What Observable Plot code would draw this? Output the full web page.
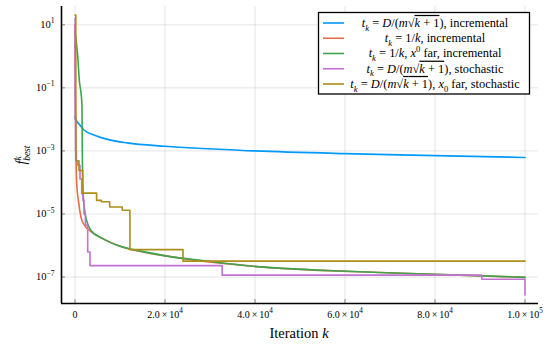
<!DOCTYPE html>
<html><head><meta charset="utf-8">
<script src="https://cdn.jsdelivr.net/npm/d3@7"></script>
<script src="https://cdn.jsdelivr.net/npm/@observablehq/plot@0.6"></script>
<style>
body{margin:0;background:#fff;}
#chart{width:556px;height:347px;}
</style></head><body><div id="chart"></div>
<script>
const xTicks = [0, 20000, 40000, 60000, 80000, 100000];
const xTickLabels = ["0", "2.0 × 10^4", "4.0 × 10^4", "6.0 × 10^4", "8.0 × 10^4", "1.0 × 10^5"];
const yTicks = [1e1, 1e-1, 1e-3, 1e-5, 1e-7];
const yTickLabels = ["10^1", "10^−1", "10^−3", "10^−5", "10^−7"];
const xDomain = [-3000, 103000];
const yDomain = [1.45e-8, 38];
const colors = ["#009AFA", "#E36F47", "#3EA44E", "#C371D2", "#AC8E18"];
const legendEnds = ["incremental", "incremental", "incremental", "stochastic", "stochastic"];

const blueK = [0, 300, 890, 2000, 4200, 7900, 11600, 20000, 40000, 60000, 80000, 100000];
const blueF = [1.2e-2, 9.3e-3, 7.1e-3, 4.6e-3, 3.2e-3, 2.2e-3, 1.8e-3, 1.4e-3, 1.0e-3, 8.2e-4, 7.1e-4, 6.2e-4];

const orangeK = [0, 60, 150, 220, 380, 750, 1330, 2090, 3200, 6150, 10600, 20500, 41200, 70800, 100000];
const orangeF = [10, 0.1, 1e-2, 1.0e-3, 9.1e-5, 2.7e-5, 7.9e-6, 4.4e-6, 3.0e-6, 1.66e-6, 8.9e-7, 4.6e-7, 2.1e-7, 1.35e-7, 9.8e-8];

const greenK = [0, 600, 1000, 1330, 1550, 1620, 1710, 2090, 2820, 3550, 6150, 10600, 13100, 20500, 27900, 41200, 56000, 70800, 85600, 100000];
const greenF = [6.3, 1.02, 0.148, 7.1e-2, 2.7e-2, 1.0e-3, 9.1e-5, 1.48e-5, 4.9e-6, 3.0e-6, 1.66e-6, 8.9e-7, 7.4e-7, 4.6e-7, 3.4e-7, 2.1e-7, 1.62e-7, 1.35e-7, 1.15e-7, 9.8e-8];

const purpleK = [0, 40, 120, 300, 600, 1110, 1490, 1775, 2000, 2310, 2820, 3330, 32700, 90400, 100000];
const purpleF = [16, 1e-2, 1e-3, 4.9e-4, 3.5e-4, 1.29e-4, 4.4e-5, 2.7e-5, 1.0e-5, 4.4e-6, 6.2e-7, 2.3e-7, 1.15e-7, 8.5e-8, 2.7e-8];

const oliveK = [0, 180, 890, 1710, 4800, 5860, 7700, 10500, 12200, 24000, 100000];
const oliveF = [20.4, 4.9e-4, 2.4e-4, 4.6e-5, 2.7e-5, 2.45e-5, 1.66e-5, 1.32e-5, 7.4e-7, 3.2e-7, 3.2e-7];

const zip = (ks, fs) => ks.map((k, i) => ({k, f: fs[i]}));
const series = [
  {data: zip(blueK, blueF), curve: "monotone-x"},
  {data: zip(orangeK, orangeF), curve: "monotone-x"},
  {data: zip(greenK, greenF), curve: "monotone-x"},
  {data: zip(purpleK, purpleF), curve: "step-after"},
  {data: zip(oliveK, oliveF), curve: "step-after"}
];

const serif = "Liberation Serif, DejaVu Serif, serif";
const plot = Plot.plot({
  width: 556, height: 347,
  marginLeft: 61, marginRight: 18, marginTop: 6, marginBottom: 44,
  style: {fontFamily: serif, fontSize: "10px", background: "#fff", color: "#000"},
  x: {domain: xDomain},
  y: {type: "log", domain: yDomain},
  marks: [
    Plot.gridX(xTicks, {stroke: "#000", strokeOpacity: 0.1, strokeWidth: 1}),
    Plot.gridY(yTicks, {stroke: "#000", strokeOpacity: 0.1, strokeWidth: 1}),
    Plot.axisX(xTicks, {tickSize: -4, stroke: "#888", tickFormat: () => "", label: null}),
    Plot.axisY(yTicks, {tickSize: -4, stroke: "#888", tickFormat: () => "", label: null}),
    Plot.axisX(xTicks, {tickSize: 0, tickPadding: 7, tickFormat: d => xTickLabels[xTicks.indexOf(d)], label: null}),
    Plot.axisY(yTicks, {tickSize: 0, tickPadding: 7, tickFormat: d => yTickLabels[yTicks.indexOf(d)], label: null}),
    ...series.map((s, i) => Plot.line(s.data, {x: "k", y: "f", stroke: colors[i], strokeWidth: 1.6, curve: s.curve})),
    Plot.ruleX([xDomain[0]], {stroke: "#000", strokeWidth: 1.6}),
    Plot.ruleY([yDomain[0]], {stroke: "#000", strokeWidth: 1.6})
  ]
});
document.getElementById("chart").appendChild(plot);

const svg = d3.select(plot);
// superscript exponents in tick labels
[["x", 10], ["y", 10.5]].forEach(([ax, fs]) => {
  svg.selectAll(`g[aria-label="${ax}-axis tick label"]`).attr("font-size", fs);
  svg.selectAll(`g[aria-label="${ax}-axis tick label"] text`).each(function () {
    const s = this.textContent;
    if (!s.includes("^")) return;
    const [b, e] = s.split("^");
    const el = d3.select(this);
    el.text("");
    el.append("tspan").text(b.replace(" × ", "\u2009×\u2009"));
    el.append("tspan").attr("font-size", fs * 0.72).attr("dy", -fs * 0.45).text(e);
  });
});

function richText(g, parts, size) {
  const t = g.append("text").attr("font-family", serif).attr("font-size", size).attr("fill", "#000");
  let shift = 0;
  parts.forEach(p => {
    const ts = t.append("tspan").text(p.t);
    if (p.i) ts.attr("font-style", "italic");
    const target = p.sub ? size * 0.3 : p.sup ? -size * 0.4 : 0;
    if (target !== shift) { ts.attr("dy", target - shift); shift = target; }
    if (p.sub || p.sup) ts.attr("font-size", size * 0.7);
    if (p.dx) ts.attr("dx", p.dx);
    if (p.over) ts.attr("text-decoration", "overline");
  });
  return t;
}
const tk = [{t: "t", i: true}, {t: "k", i: true, sub: true}, {t: " = "}];
const dSqrt = [{t: "D", i: true}, {t: "/("}, {t: "m", i: true}, {t: "√"}, {t: "k", i: true, over: true}, {t: " + 1", over: true}, {t: ")"}];
const rows = [
  [...tk, ...dSqrt, {t: ", " + legendEnds[0]}],
  [...tk, {t: "1/"}, {t: "k", i: true}, {t: ", " + legendEnds[1]}],
  [...tk, {t: "1/"}, {t: "k", i: true}, {t: ", "}, {t: "x", i: true}, {t: "0", sup: true}, {t: " far, " + legendEnds[2]}],
  [...tk, ...dSqrt, {t: ", " + legendEnds[3]}],
  [...tk, ...dSqrt, {t: ", "}, {t: "x", i: true}, {t: "0", sub: true}, {t: " far, " + legendEnds[4]}]
];
const leg = svg.append("g");
leg.append("rect").attr("x", 318.5).attr("y", 12.5).attr("width", 211).attr("height", 81.5)
  .attr("fill", "#fff").attr("stroke", "#000").attr("stroke-width", 1.3);
rows.forEach((r, i) => {
  const y = 23 + i * 15.25;
  leg.append("line").attr("x1", 323).attr("x2", 344).attr("y1", y).attr("y2", y)
    .attr("stroke", colors[i]).attr("stroke-width", 1.6);
  richText(leg, r, 12.4).attr("x", 435).attr("y", y + 3.9).attr("text-anchor", "middle");
});
// axis titles
richText(svg, [{t: "Iteration "}, {t: "k", i: true}], 14.5).attr("x", 299).attr("y", 338).attr("text-anchor", "middle");
const yl = svg.append("g").attr("transform", "translate(26,155) rotate(-90)");
const ylt = yl.append("text").attr("font-family", serif).attr("font-size", 14).attr("text-anchor", "middle");
ylt.append("tspan").attr("font-style", "italic").text("f");
ylt.append("tspan").attr("font-style", "italic").attr("font-size", 9.5).attr("dy", -5).text("k");
ylt.append("tspan").attr("font-style", "italic").attr("font-size", 9.5).attr("dx", -4.5).attr("dy", 9).text("best");
</script></body></html>
